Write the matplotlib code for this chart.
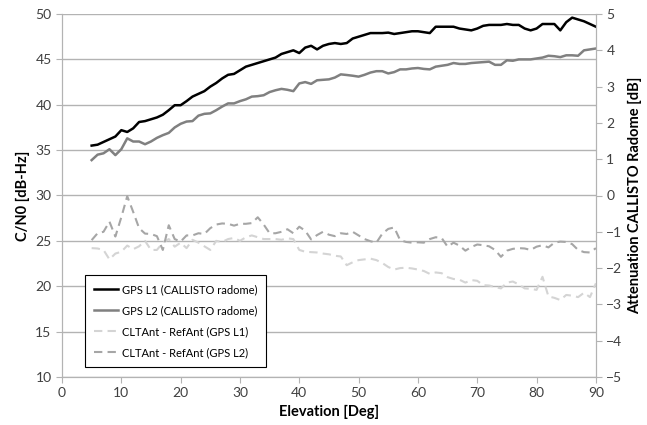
import numpy as np
import matplotlib
matplotlib.use("Agg")
import matplotlib.pyplot as plt

plt.rcParams['font.family'] = ['Lato', 'DejaVu Sans']

elev = list(range(5, 91))

# C/N0 with radome [dB-Hz], left axis
l1_radome = [35.5, 35.6, 35.9, 36.2, 36.5, 37.2, 37.0, 37.4, 38.1, 38.2,
             38.4, 38.6, 38.9, 39.4, 39.95, 39.95, 40.4, 40.9, 41.2, 41.5,
             42.0, 42.4, 42.9, 43.3, 43.4, 43.8, 44.2, 44.4, 44.6, 44.8,
             45.0, 45.2, 45.6, 45.8, 46.0, 45.7, 46.3, 46.5, 46.1, 46.5,
             46.7, 46.8, 46.7, 46.8, 47.3, 47.5, 47.7, 47.9, 47.9, 47.9,
             47.95, 47.8, 47.9, 48.0, 48.1, 48.1, 48.0, 47.9, 48.6, 48.6,
             48.6, 48.6, 48.4, 48.3, 48.2, 48.4, 48.7, 48.8, 48.8, 48.8,
             48.9, 48.8, 48.8, 48.4, 48.2, 48.4, 48.9, 48.9, 48.9, 48.2,
             49.1, 49.6, 49.4, 49.2, 48.9, 48.6]
l2_radome = [33.9, 34.5, 34.65, 35.1, 34.45, 35.1, 36.3, 35.95, 35.95, 35.65,
             35.95, 36.35, 36.65, 36.9, 37.5, 37.9, 38.15, 38.2, 38.8, 39.0,
             39.05, 39.4, 39.8, 40.15, 40.15, 40.4, 40.6, 40.9, 40.95, 41.05,
             41.4, 41.6, 41.75, 41.65, 41.5, 42.35, 42.5, 42.3, 42.7, 42.75,
             42.8, 43.0, 43.35, 43.28, 43.2, 43.1, 43.3, 43.55, 43.7, 43.7,
             43.45, 43.6, 43.9, 43.9, 44.0, 44.05, 43.95, 43.9, 44.2, 44.3,
             44.4, 44.6, 44.5, 44.5, 44.6, 44.65, 44.7, 44.75, 44.4, 44.4,
             44.9, 44.85, 45.0, 45.0, 45.0, 45.1, 45.2, 45.4, 45.35, 45.25,
             45.45, 45.45, 45.4, 46.0, 46.1, 46.2]

# CLTAnt - RefAnt [dB], right axis
diff_l1 = [-1.45, -1.46, -1.5, -1.76, -1.6, -1.55, -1.38, -1.48, -1.4, -1.25,
           -1.5, -1.5, -1.3, -1.2, -1.41, -1.3, -1.45, -1.22, -1.3, -1.4,
           -1.5, -1.25, -1.28, -1.2, -1.17, -1.25, -1.15, -1.1, -1.15, -1.2,
           -1.2, -1.2, -1.22, -1.18, -1.2, -1.5, -1.55, -1.56, -1.57, -1.6,
           -1.62, -1.66, -1.68, -1.92, -1.84, -1.78, -1.76, -1.74, -1.78, -1.86,
           -1.97, -2.04, -2.0, -1.99, -2.01, -2.04, -2.08, -2.16, -2.12, -2.14,
           -2.25, -2.3, -2.32, -2.4, -2.33, -2.35, -2.47, -2.48, -2.52, -2.56,
           -2.4, -2.37, -2.45, -2.56, -2.57, -2.6, -2.24, -2.78, -2.82, -2.88,
           -2.74, -2.76, -2.8, -2.68, -2.8, -2.42]
diff_l2 = [-1.23, -1.04, -1.0, -0.72, -1.13, -0.6, -0.02, -0.45, -0.9, -1.05,
           -1.06, -1.12, -1.5, -0.82, -1.2, -1.27, -1.1, -1.1, -1.04, -1.06,
           -0.9, -0.8, -0.77, -0.78, -0.83, -0.78, -0.78, -0.76, -0.6, -0.8,
           -1.04, -1.04, -1.0, -0.93, -1.04, -0.86, -0.97, -1.21, -1.09, -1.0,
           -1.08, -1.12, -1.04, -1.06, -1.0, -1.1, -1.2, -1.26, -1.3, -1.05,
           -0.92, -0.88, -1.23, -1.28, -1.3, -1.29, -1.3, -1.2, -1.15, -1.17,
           -1.41, -1.3, -1.38, -1.52, -1.42, -1.35, -1.37, -1.4, -1.5, -1.69,
           -1.52, -1.47, -1.45, -1.46, -1.5, -1.41, -1.37, -1.43, -1.3, -1.27,
           -1.28, -1.34, -1.5, -1.56, -1.57, -1.45]

grid_c = '#b3b3b3'
fig = plt.figure(figsize=(6.47, 4.25), dpi=100)
ax = fig.add_axes([0.0958, 0.113, 0.8252, 0.854])
ax2 = ax.twinx()

h1, = ax.plot(elev, l1_radome, color='black', lw=1.8, label='GPS L1 (CALLISTO radome)')
h2, = ax.plot(elev, l2_radome, color='#808080', lw=1.8, label='GPS L2 (CALLISTO radome)')
h3, = ax2.plot(elev, diff_l1, color='#d4d4d4', lw=1.5, dashes=(4, 2.5), label='CLTAnt - RefAnt (GPS L1)')
h4, = ax2.plot(elev, diff_l2, color='#a6a6a6', lw=1.5, dashes=(4, 2.5), label='CLTAnt - RefAnt (GPS L2)')

ax.set_xlim(0, 90)
ax.set_ylim(10, 50)
ax2.set_ylim(-5, 5)
ax.set_xticks(range(0, 91, 10))
ax.set_yticks(range(10, 51, 5))
ax2.set_yticks(range(-5, 6, 1))
ax.yaxis.grid(True, color=grid_c, lw=1)
ax.set_axisbelow(True)

for a in (ax, ax2):
    for s in a.spines.values():
        s.set_color(grid_c)
    a.spines['top'].set_visible(False)
    a.tick_params(colors=grid_c, labelcolor='#404040', labelsize=10, length=4)

ax.set_xlabel('Elevation [Deg]', fontsize=10.5, fontweight='bold', labelpad=4)
ax.set_ylabel('C/N0 [dB-Hz]', fontsize=10.5, fontweight='bold', labelpad=4)
ax2.set_ylabel('Attenuation CALLISTO Radome [dB]', fontsize=10.5, fontweight='bold', labelpad=4)

leg = ax2.legend(handles=[h1, h2, h3, h4], loc='lower left', bbox_to_anchor=(0.043, 0.028),
                 borderaxespad=0, fancybox=False, framealpha=1, fontsize=8,
                 handlelength=2.2, labelspacing=0.9, borderpad=0.8, handletextpad=0.3)
leg.get_frame().set_edgecolor('black')
leg.get_frame().set_linewidth(0.8)

fig.savefig('out.png', dpi=100)
